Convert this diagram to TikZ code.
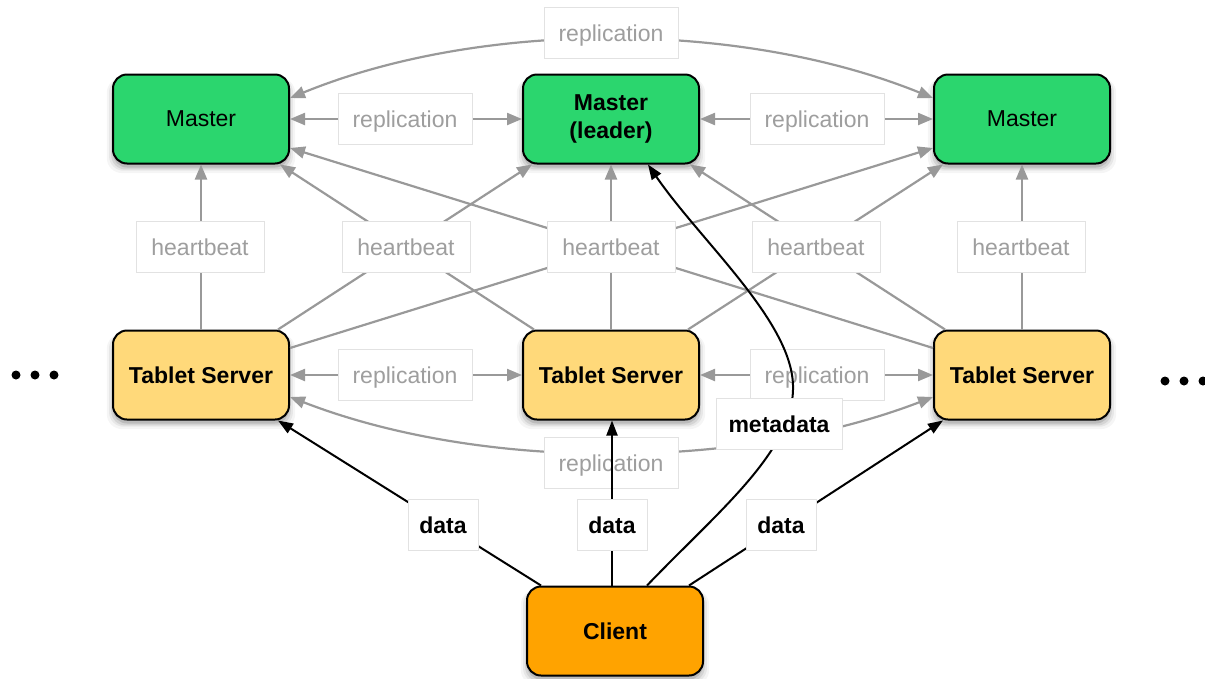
\documentclass[tikz,border=0pt]{standalone}
\usepackage{fontspec}
\setmainfont{Liberation Sans}
\usetikzlibrary{arrows.meta,shadows,calc}

\definecolor{mastergreen}{HTML}{2BD66E}
\definecolor{tabletyellow}{HTML}{FFD97A}
\definecolor{clientorange}{HTML}{FFA300}
\definecolor{linkgray}{HTML}{999999}
\definecolor{labelgray}{HTML}{9E9E9E}
\definecolor{boxedge}{HTML}{E2E2E2}

\tikzset{
  softshadow/.style={
    drop shadow={shadow xshift=0pt, shadow yshift=-6pt, opacity=0.08, shadow scale=1.07},
    drop shadow={shadow xshift=0pt, shadow yshift=-5pt, opacity=0.12, shadow scale=1.045},
    drop shadow={shadow xshift=0pt, shadow yshift=-5pt, opacity=0.18, shadow scale=1.02},
    drop shadow={shadow xshift=0pt, shadow yshift=-4pt, opacity=0.3}
  },
  server/.style={draw=black, line width=2pt, rounded corners=14pt,
    minimum width=176pt, minimum height=89pt, inner sep=0pt, align=center,
    font=\fontsize{23}{28}\selectfont, softshadow},
  master/.style={server, fill=mastergreen},
  leader/.style={server, fill=mastergreen, font=\fontsize{23}{28}\selectfont\bfseries},
  tablet/.style={server, fill=tabletyellow, font=\fontsize{23}{28}\selectfont\bfseries},
  client/.style={server, fill=clientorange, font=\fontsize{23}{28}\selectfont\bfseries},
  tag/.style={fill=white, draw=boxedge, line width=0.8pt, inner sep=0pt,
    text depth=0pt, minimum height=51pt, font=\fontsize{23}{28}\selectfont, text=labelgray},
  repltag/.style={tag, minimum width=134pt},
  beattag/.style={tag, minimum width=128pt},
  datatag/.style={tag, text=black, font=\fontsize{23}{28}\selectfont\bfseries, minimum width=70pt},
  metatag/.style={datatag, minimum width=126pt},
  graytip/.tip={Triangle[length=15pt,width=12pt]},
  blacktip/.tip={Triangle[length=15pt,width=11pt]},
  link/.style={draw=linkgray, line width=2.2pt, -graytip},
  twoway/.style={draw=linkgray, line width=2.2pt, graytip-graytip},
  request/.style={draw=black, line width=2pt, -blacktip}
}

\begin{document}
\begin{tikzpicture}[x=1pt, y=-1pt]
\useasboundingbox (0,0) rectangle (1205,678);

% servers
\node[master] (M1) at (201,119) {Master};
\node[leader] (M2) at (611,119) {Master\\(leader)};
\node[master] (M3) at (1022,119) {Master};
\node[tablet] (T1) at (201,375) {Tablet Server};
\node[tablet] (T2) at (611,375) {Tablet Server};
\node[tablet] (T3) at (1022,375) {Tablet Server};
\node[client] (C) at (615,631) {Client};

% more tablet servers on either side
\foreach \x in {16,35,54} \fill (\x,375) circle (4.5pt);
\foreach \x in {1165,1184,1203} \fill (\x,381) circle (4.5pt);

% master replication
\draw[twoway] (M1.east) -- (M2.west);
\draw[twoway] (M2.east) -- (M3.west);
\draw[twoway] ($(M1.east)+(0,-21)$) .. controls +(191,-78) and +(-193,-78) .. ($(M3.west)+(0,-21)$);

% tablet replication
\draw[twoway] (T1.east) -- (T2.west);
\draw[twoway] (T2.east) -- (T3.west);
\draw[twoway] ($(T1.east)+(0,22)$) .. controls +(191,74) and +(-193,74) .. ($(T3.west)+(0,22)$);

% heartbeats from every tablet server to every master
\draw[link] (T1.north) -- (M1.south);
\draw[link] (T2.north) -- (M2.south);
\draw[link] (T3.north) -- (M3.south);
\draw[link] ($(T1.north east)+(-12,0)$) -- ($(M2.south west)+(10,0)$);
\draw[link] ($(T2.north west)+(12,0)$) -- ($(M1.south east)+(-10,0)$);
\draw[link] ($(T2.north east)+(-12,0)$) -- ($(M3.south west)+(10,0)$);
\draw[link] ($(T3.north west)+(12,0)$) -- ($(M2.south east)+(-10,0)$);
\draw[link] ($(T1.east)+(0,-27)$) -- ($(M3.west)+(0,29)$);
\draw[link] ($(T3.west)+(0,-27)$) -- ($(M1.east)+(0,29)$);

% labels of the grey links
\node[repltag] (rtop) at (611,33) {replication};
\node[repltag] (rm12) at (405,119) {replication};
\node[repltag] (rm23) at (817,119) {replication};
\node[repltag] (rt12) at (405,375) {replication};
\node[repltag] (rt23) at (817,375) {replication};
\node[repltag] (rbot) at (611,463) {replication};
\node[beattag] (hb1) at (200,247) {heartbeat};
\node[beattag] (hb2) at (406,247) {heartbeat};
\node[beattag] (hb3) at (611,247) {heartbeat};
\node[beattag] (hb4) at (816,247) {heartbeat};
\node[beattag] (hb5) at (1021,247) {heartbeat};

% client requests
\coordinate (mbend) at (793,385);
\draw[request] ($(C.north west)+(15,0)$) -- ($(T1.south east)+(-12,0)$);
\draw[request] ($(C.north)+(-3,0)$) -- ($(T2.south)+(1,0)$);
\draw[request] ($(C.north east)+(-15,0)$) -- ($(T3.south west)+(10,0)$);
\draw[request] ($(C.north)+(32,0)$) .. controls +(73,-76) and +(2,65) .. (mbend)
  .. controls +(-2,-65) and +(52,76) .. ($(M2.south)+(37,0)$);

\node[datatag] (d1) at (443,525) {data};
\node[datatag] (d2) at (612,525) {data};
\node[datatag] (d3) at (781,525) {data};
\node[metatag] (md) at (779,424) {metadata};
\end{tikzpicture}
\end{document}
